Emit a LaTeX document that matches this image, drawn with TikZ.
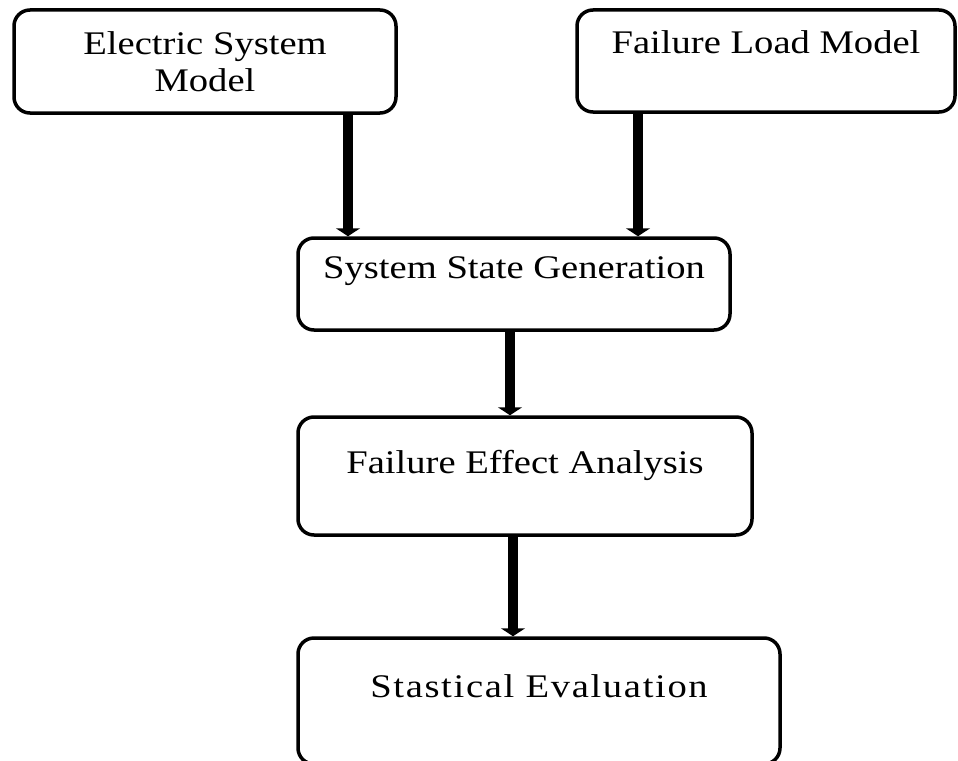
\documentclass[tikz,border=0pt]{standalone}
\usepackage{fontspec}
\setmainfont{Liberation Serif}[FakeStretch=1.17]
\usetikzlibrary{arrows.meta}

\tikzset{
  blk/.style={draw, line width=3.5pt, rounded corners=16pt, fill=white,
    font=\fontsize{33}{37}\selectfont, align=center, inner sep=0pt},
  flow/.style={line width=10pt, -{Triangle[width=24pt,length=8pt]}}
}

\begin{document}
\begin{tikzpicture}[x=1pt,y=-1pt]
\useasboundingbox (0,0) rectangle (958,760);

% input models
\node[blk, minimum width=382pt, minimum height=103pt] (esm) at (205,61.5) {Electric System\\Model};
\node[blk, minimum width=378pt, minimum height=102pt, text height=22pt, text depth=36pt] (flm) at (766,61) {Failure Load Model};

% chain
\node[blk, minimum width=432pt, minimum height=92pt, text height=22pt, text depth=34pt] (ssg) at (514,284) {System State Generation};
\node[blk, minimum width=454pt, minimum height=118pt, text height=22pt, text depth=28pt] (fea) at (525,476) {Failure Effect Analysis};
\node[blk, minimum width=482pt, minimum height=126pt, text height=22pt, text depth=30pt] (se) at (539,701) {\addfontfeature{LetterSpace=5}Stastical Evaluation};

\coordinate (a1) at ([xshift=143pt]esm.south);
\coordinate (a2) at ([xshift=-128pt]flm.south);
\coordinate (a3) at ([xshift=-4pt]ssg.south);
\coordinate (a4) at ([xshift=-12pt]fea.south);

\draw[flow] (a1) -- (a1 |- ssg.north);
\draw[flow] (a2) -- (a2 |- ssg.north);
\draw[flow] (a3) -- (a3 |- fea.north);
\draw[flow] (a4) -- (a4 |- se.north);
\end{tikzpicture}
\end{document}
